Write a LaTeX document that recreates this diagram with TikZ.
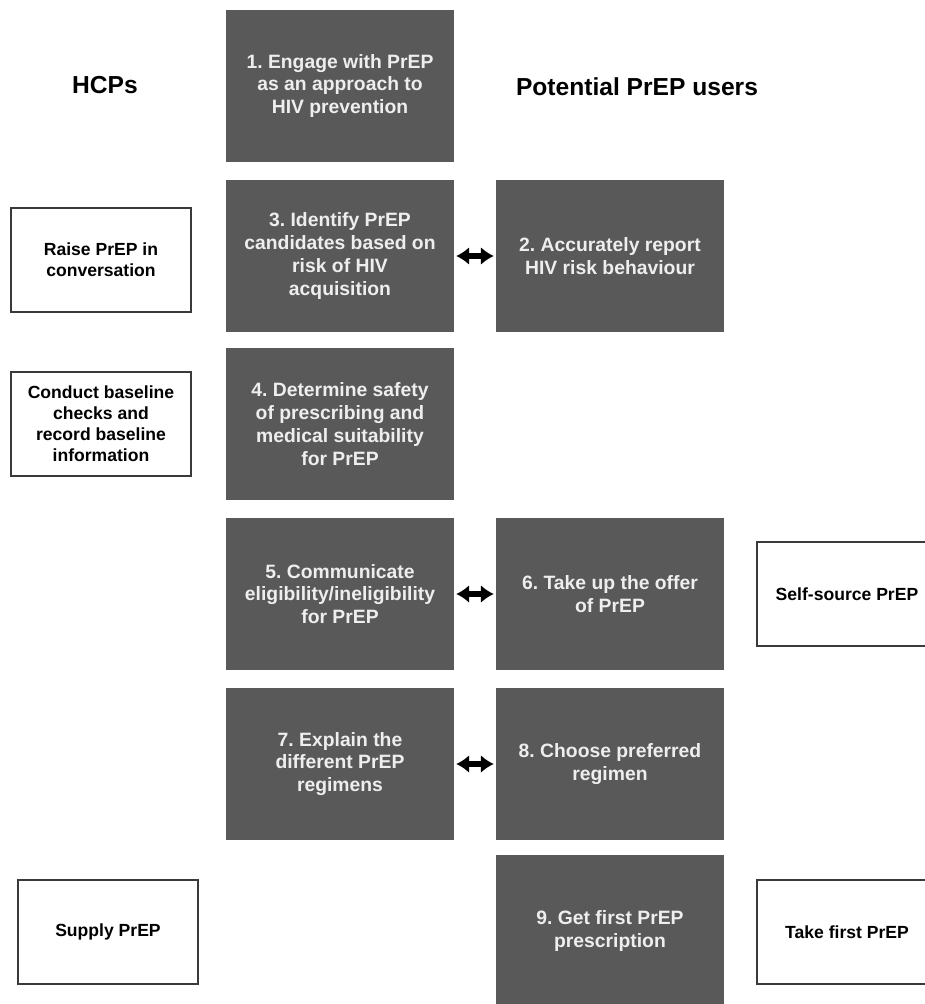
\documentclass[tikz,border=0pt]{standalone}
\usepackage{fontspec}
\setmainfont{Liberation Sans}
\usepackage{xcolor}
\usepackage{tikz}
\definecolor{step-fill}{HTML}{595959}
\definecolor{step-text}{HTML}{EEEEEE}
\definecolor{side-line}{HTML}{3A3A3A}
\usetikzlibrary{arrows.meta}
\frenchspacing

\begin{document}
\begin{tikzpicture}[x=0.02cm,y=-0.02cm,
  stepbox/.style={fill=step-fill,text=step-text,minimum width=4.56cm,minimum height=3.04cm,inner sep=2pt,align=center,font=\bfseries\fontsize{11}{13}\selectfont},
  sidebox/.style={draw=side-line,line width=1pt,minimum width=3.6cm,minimum height=2.08cm,align=center,font=\bfseries\fontsize{10}{12}\selectfont},
  headtext/.style={font=\bfseries\fontsize{14}{16}\selectfont},
  link/.style={{Latex[length=2.6mm,width=3.6mm]}-{Latex[length=2.6mm,width=3.6mm]},line width=1.1mm}]
\useasboundingbox (0,0) rectangle (925,1004);
\path
(340,86)  node[stepbox] (n1) {1. Engage with PrEP\\as an approach to\\HIV prevention}
(340,256) node[stepbox] (n3) {3. Identify PrEP\\candidates based on\\risk of HIV\\acquisition}
(610,256) node[stepbox] (n2) {2. Accurately report\\HIV risk behaviour}
(340,424) node[stepbox] (n4) {4. Determine safety\\of prescribing and\\medical suitability\\for PrEP}
(340,594) node[stepbox] (n5) {5. Communicate\\eligibility/ineligibility\\for PrEP}
(610,594) node[stepbox] (n6) {6. Take up the offer\\of PrEP}
(340,764) node[stepbox] (n7) {7. Explain the\\different PrEP\\regimens}
(610,764) node[stepbox] (n8) {8. Choose preferred\\regimen}
(610,931) node[stepbox] (n9) {9. Get first PrEP\\prescription};
\path
(105,85)  node[headtext] (hcp) {HCPs}
(637,87)  node[headtext] (users) {Potential PrEP users}
(101,260) node[sidebox] (raise) {Raise PrEP in\\conversation}
(101,424) node[sidebox] (baseline) {Conduct baseline\\checks and\\record baseline\\information}
(847,594) node[sidebox] (selfsource) {Self-source PrEP}
(108,932) node[sidebox] (supply) {Supply PrEP}
(847,932) node[sidebox] (takefirst) {Take first PrEP};
\draw[link] ([xshift=1pt]n3.east)--([xshift=-1pt]n2.west);
\draw[link] ([xshift=1pt]n5.east)--([xshift=-1pt]n6.west);
\draw[link] ([xshift=1pt]n7.east)--([xshift=-1pt]n8.west);
\end{tikzpicture}
\end{document}
